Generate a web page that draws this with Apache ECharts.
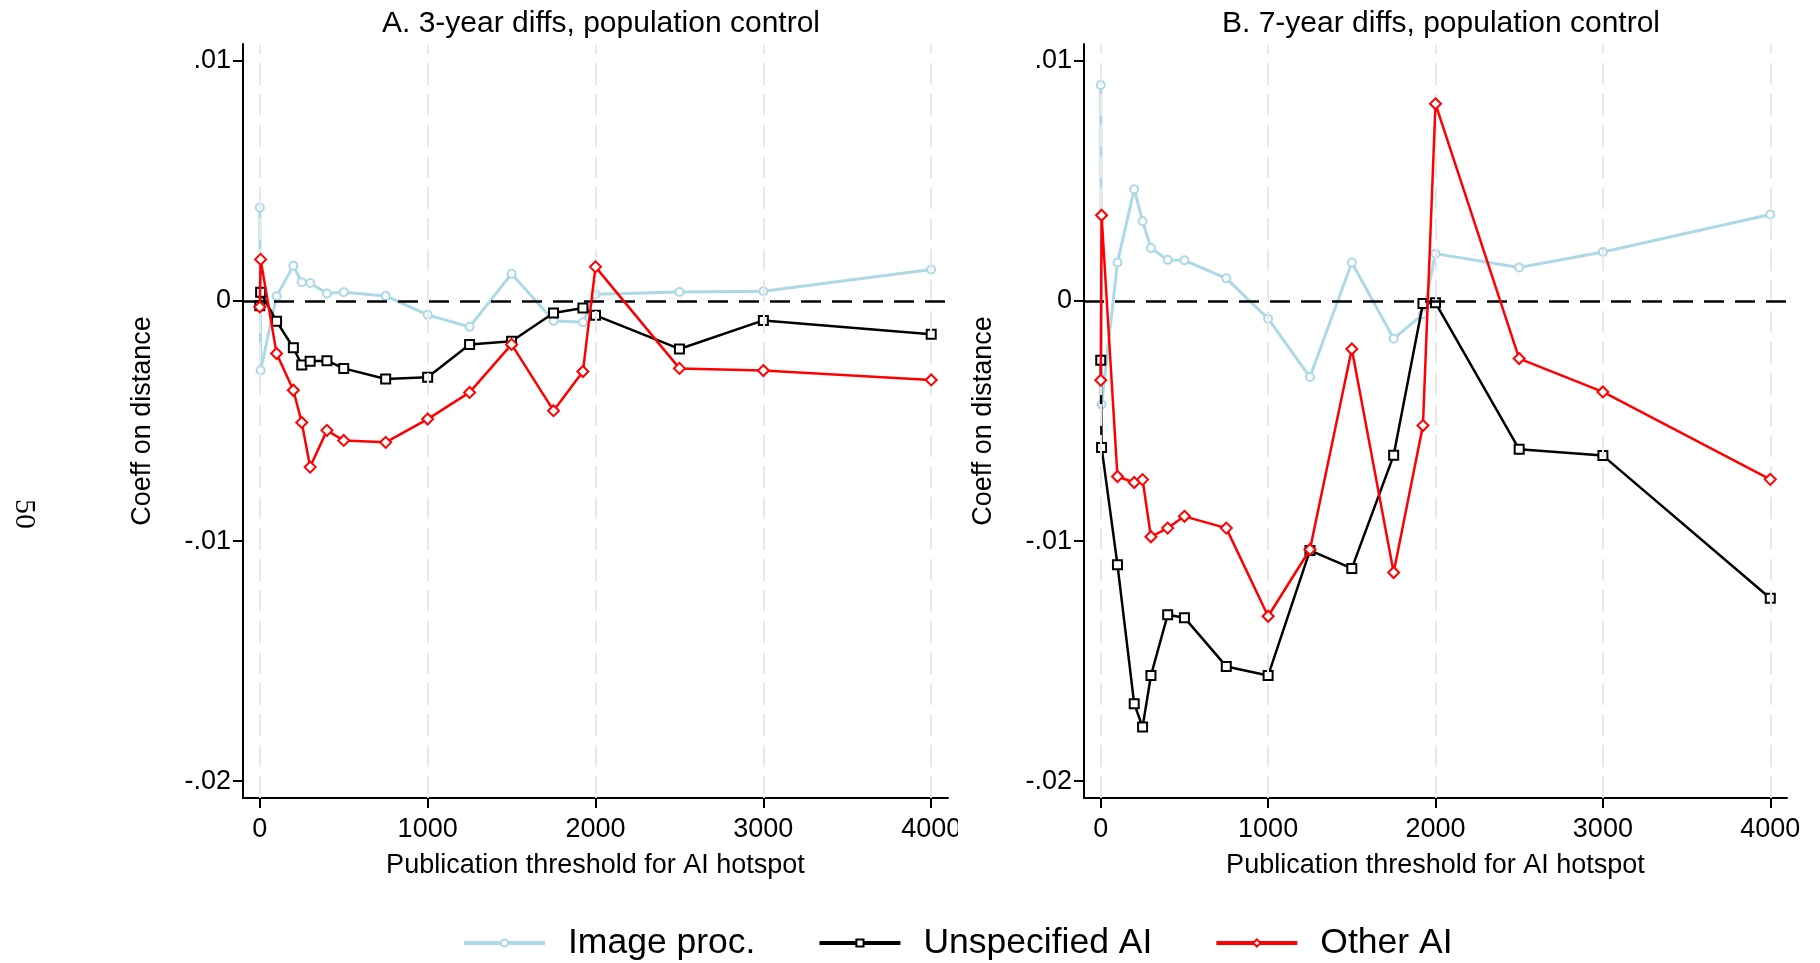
<!DOCTYPE html>
<html>
<head>
<meta charset="utf-8">
<script src="https://cdn.jsdelivr.net/npm/echarts@6/dist/echarts.min.js"></script>
<style>
  html, body { margin: 0; padding: 0; background: #fff; }
  #chart { width: 1820px; height: 963px; }
</style>
</head>
<body>
<div id="chart"></div>
<script>
// publication thresholds (first two both sit at ~0)
const thresholds = [0, 5, 100, 200, 250, 300, 400, 500, 750, 1000, 1250, 1500, 1750, 1925, 2000, 2500, 3000, 4000];

// panel A: 3-year diffs
const imageA = [0.00389, -0.00289, 0.00019, 0.00147, 0.00078, 0.00075, 0.00031, 0.00036, 0.00021, -0.00058, -0.00108, 0.00113, -0.00083, -0.00089, 0.00028, 0.00037, 0.00040, 0.00131];
const unspecA = [-0.0002, 0.00036, -0.00085, -0.00195, -0.00267, -0.00251, -0.00249, -0.00281, -0.00325, -0.00318, -0.00181, -0.00168, -0.00050, -0.00029, -0.00060, -0.00200, -0.00081, -0.00139];
const otherA = [-0.00025, 0.00173, -0.00219, -0.00372, -0.00506, -0.00692, -0.00539, -0.00581, -0.00589, -0.00492, -0.00381, -0.00181, -0.00457, -0.00294, 0.00142, -0.00281, -0.00290, -0.00329];

// panel B: 7-year diffs
const imageB = [0.00899, -0.00431, 0.00160, 0.00465, 0.00332, 0.00220, 0.00171, 0.00169, 0.00094, -0.00074, -0.00317, 0.00160, -0.00157, -0.00055, 0.00197, 0.00139, 0.00204, 0.00360];
const unspecB = [-0.00247, -0.00610, -0.01099, -0.01678, -0.01774, -0.01560, -0.01307, -0.01319, -0.01522, -0.01560, -0.01039, -0.01114, -0.00643, -0.00011, -0.00008, -0.00618, -0.00644, -0.01238];
const otherB = [-0.0033, 0.00357, -0.00731, -0.00756, -0.00744, -0.00982, -0.00946, -0.00897, -0.00946, -0.01313, -0.01035, -0.00200, -0.01131, -0.00519, 0.00821, -0.00240, -0.00379, -0.00743];

const xTicks = [0, 1000, 2000, 3000, 4000];
const yTicks = [-0.02, -0.01, 0, 0.01];
const yTickLabels = ['-.02', '-.01', '0', '.01'];
const panelTitles = ['A. 3-year diffs, population control', 'B. 7-year diffs, population control'];
const seriesNames = ['Image proc.', 'Unspecified AI', 'Other AI'];

const FONT = "'Liberation Sans', Arial, Helvetica, sans-serif";

const pairs = (ys) => thresholds.map((x, i) => [x, ys[i]]);

const styles = [
  { color: '#add8e6', width: 3, symbol: 'emptyCircle', size: 8 },
  { color: '#000000', width: 2.5, symbol: 'emptyRect', size: 9 },
  { color: '#ff0000', width: 2.5, symbol: 'emptyDiamond', size: 11 }
];

const chart = echarts.init(document.getElementById('chart'), null, { renderer: 'canvas' });

const grids = [
  { left: 243, right: 872, top: 44, bottom: 165 },
  { left: 1084, right: 33, top: 44, bottom: 165 }
];

function xAxisFor(i) {
  return {
    type: 'value', gridIndex: i, min: -100, max: 4100,
    name: 'Publication threshold for AI hotspot',
    nameLocation: 'middle', nameGap: 54,
    nameTextStyle: { fontFamily: FONT, fontSize: 27, color: '#000' },
    axisLine: { onZero: false, lineStyle: { color: '#000', width: 2 } },
    axisTick: { customValues: xTicks, length: 10, lineStyle: { color: '#000', width: 2 } },
    axisLabel: {
      customValues: xTicks, margin: 18, fontFamily: FONT, fontSize: 27, color: '#000',
      formatter: (v) => String(v)
    },
    splitLine: { show: false }
  };
}

function yAxisFor(i) {
  return {
    type: 'value', gridIndex: i, min: -0.0207, max: 0.0107,
    name: 'Coeff on distance',
    nameLocation: 'middle', nameGap: 87,
    nameTextStyle: { fontFamily: FONT, fontSize: 27, color: '#000' },
    axisLine: { onZero: false, lineStyle: { color: '#000', width: 2 } },
    axisTick: { customValues: yTicks, length: 10, lineStyle: { color: '#000', width: 2 } },
    axisLabel: {
      customValues: yTicks, margin: 12, fontFamily: FONT, fontSize: 27, color: '#000',
      formatter: (v) => {
        const k = yTicks.findIndex(t => Math.abs(t - v) < 1e-9);
        return k >= 0 ? yTickLabels[k] : '';
      }
    },
    splitLine: { show: false }
  };
}

const series = [];
[[imageA, unspecA, otherA], [imageB, unspecB, otherB]].forEach((group, g) => {
  // reference lines: light vertical grid + dashed zero line
  series.push({
    type: 'line', xAxisIndex: g, yAxisIndex: g, data: [], silent: true, z: 1,
    markLine: {
      silent: true, symbol: 'none', animation: false,
      label: { show: false },
      data: xTicks.map(v => ({ xAxis: v, lineStyle: { color: '#e8e8e8', width: 2, type: [22, 9] } }))
        .concat([{ yAxis: 0, lineStyle: { color: '#000', width: 2.5, type: [20, 11] } }])
    }
  });
  group.forEach((ys, k) => {
    const s = styles[k];
    series.push({
      name: seriesNames[k], type: 'line', xAxisIndex: g, yAxisIndex: g,
      data: pairs(ys), z: 3 + k,
      symbol: s.symbol, symbolSize: s.size, showAllSymbol: true,
      lineStyle: { color: s.color, width: s.width },
      itemStyle: { color: s.color, borderColor: s.color, borderWidth: 2.5 },
      emphasis: { disabled: true }
    });
  });
});

chart.setOption({
  animation: false,
  backgroundColor: '#fff',
  title: panelTitles.map((t, i) => ({
    text: t,
    left: i === 0 ? 596 : 1436, top: 4, textAlign: 'center',
    textStyle: { fontFamily: FONT, fontSize: 30, fontWeight: 'normal', color: '#000' }
  })),
  grid: grids,
  xAxis: [xAxisFor(0), xAxisFor(1)],
  yAxis: [yAxisFor(0), yAxisFor(1)],
  legend: {
    data: seriesNames, left: 462, top: 925, padding: 0,
    itemWidth: 81, itemHeight: 9, itemGap: 62,
    lineStyle: { width: 4 },
    textStyle: { fontFamily: FONT, fontSize: 35.5, color: '#000', padding: [0, 0, 0, 18] }
  },
  graphic: [
    // page number on the left margin
    {
      type: 'text', x: 24, y: 514, rotation: -Math.PI / 2,
      style: { text: '50', font: "30px 'Liberation Serif', 'DejaVu Serif', serif", fill: '#000', align: 'center', verticalAlign: 'middle' }
    },
    // the left panel's last tick label is cut at the panel edge
    { type: 'rect', x: 958, y: 808, shape: { width: 20, height: 40 }, style: { fill: '#fff' }, z: 100 }
  ],
  series: series
});
</script>
</body>
</html>
